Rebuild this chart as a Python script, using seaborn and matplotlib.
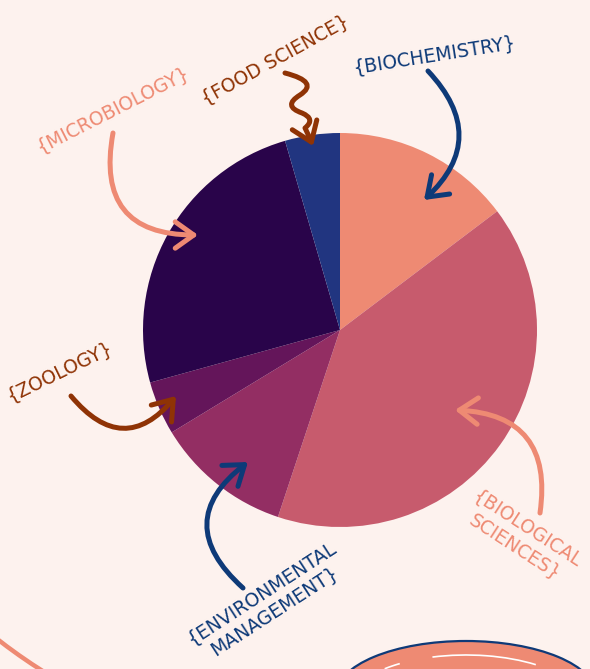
import matplotlib
matplotlib.use("Agg")
import matplotlib.pyplot as plt
import seaborn as sns
from matplotlib.patches import FancyArrowPatch, Ellipse, Arc
from matplotlib.path import Path

# ---- data ----
categories = ["Biochemistry", "Biological Sciences", "Environmental Management",
              "Zoology", "Microbiology", "Food Science"]
labels = ["{BIOCHEMISTRY}", "{BIOLOGICAL\nSCIENCES}", "{ENVIRONMENTAL\nMANAGEMENT}",
          "{ZOOLOGY}", "{MICROBIOLOGY}", "{FOOD SCIENCE}"]
values = [14.7, 40.4, 11.2, 4.4, 24.8, 4.5]
slice_colors = ["#EE8A73", "#C75B6D", "#932E63", "#64155A", "#29044A", "#213580"]

BG = "#FDF2EE"
NAVY = "#0E3A78"
RUST = "#8F3305"
SALMON = "#EE8A73"

sns.set_theme(style="white")
plt.rcParams["font.family"] = ["DejaVu Sans"]

W, H = 590, 669
fig = plt.figure(figsize=(W / 100, H / 100), dpi=100, facecolor=BG)

# pie axes
cx, cy, r = 340, 330, 197
ax = fig.add_axes([(cx - r) / W, 1 - (cy + r) / H, 2 * r / W, 2 * r / H])
ax.pie(values, colors=sns.color_palette(slice_colors), startangle=90,
       counterclock=False, radius=1, wedgeprops=dict(linewidth=0))
ax.set_xlim(-1, 1)
ax.set_ylim(-1, 1)
ax.set_facecolor("none")

# overlay axes in pixel coordinates
ov = fig.add_axes([0, 0, 1, 1])
ov.set_xlim(0, W)
ov.set_ylim(H, 0)
ov.axis("off")
ov.patch.set_alpha(0)

# background decorations
ov.add_patch(Arc((340, 200), 1114, 1114, theta1=90, theta2=140,
                 color=SALMON, lw=3.2))
ov.add_patch(Ellipse((466, 695), 260, 108, facecolor=SALMON,
                     edgecolor=NAVY, lw=1.6))
ov.add_patch(Arc((466, 705), 236, 100, theta1=-156, theta2=-148,
                 color="white", lw=1.2))
ov.add_patch(Arc((466, 705), 236, 100, theta1=-125, theta2=-30,
                 color="white", lw=1.2))

# labels
text_specs = [
    (labels[0], 434, 55, 9, NAVY),
    (labels[1], 521, 538, -33, SALMON),
    (labels[2], 268, 602, 33, NAVY),
    (labels[3], 60, 372, 26, RUST),
    (labels[4], 113, 110, 27, SALMON),
    (labels[5], 275, 60, 29, RUST),
]
for txt, x, y, rot, col in text_specs:
    ov.text(x, y, txt, rotation=rot, color=col, fontsize=13.5,
            ha="center", va="center", multialignment="center",
            linespacing=1.2, rotation_mode="anchor")

# arrows
def arrow(a, b, rad, col):
    p = FancyArrowPatch(a, b, connectionstyle=f"arc3,rad={rad}",
                        arrowstyle="->,head_length=0.7,head_width=0.5",
                        mutation_scale=19, lw=3.6, color=col,
                        shrinkA=0, shrinkB=0, capstyle="round", joinstyle="round")
    ov.add_patch(p)

arrow((428, 71), (424, 200), -0.5, NAVY)
arrow((113, 133), (198, 235), 0.6, SALMON)
arrow((71, 396), (176, 396), 0.6, RUST)
arrow((243, 588), (248, 462), -0.6, NAVY)
arrow((540, 513), (455, 410), 0.55, SALMON)

# squiggle arrow for food science
verts = [(285, 73), (320, 82), (300, 95), (282, 106), (302, 113),
         (316, 119), (305, 128), (309, 136), (313, 146)]
codes = [Path.MOVETO, Path.CURVE3, Path.CURVE3, Path.CURVE3, Path.CURVE3,
         Path.CURVE3, Path.CURVE3, Path.CURVE3, Path.CURVE3]
sq = FancyArrowPatch(path=Path(verts, codes),
                     arrowstyle="->,head_length=0.7,head_width=0.5",
                     mutation_scale=19, lw=3.6, color=RUST,
                     capstyle="round", joinstyle="round")
ov.add_patch(sq)

fig.savefig("out.png", dpi=100, facecolor=BG)
